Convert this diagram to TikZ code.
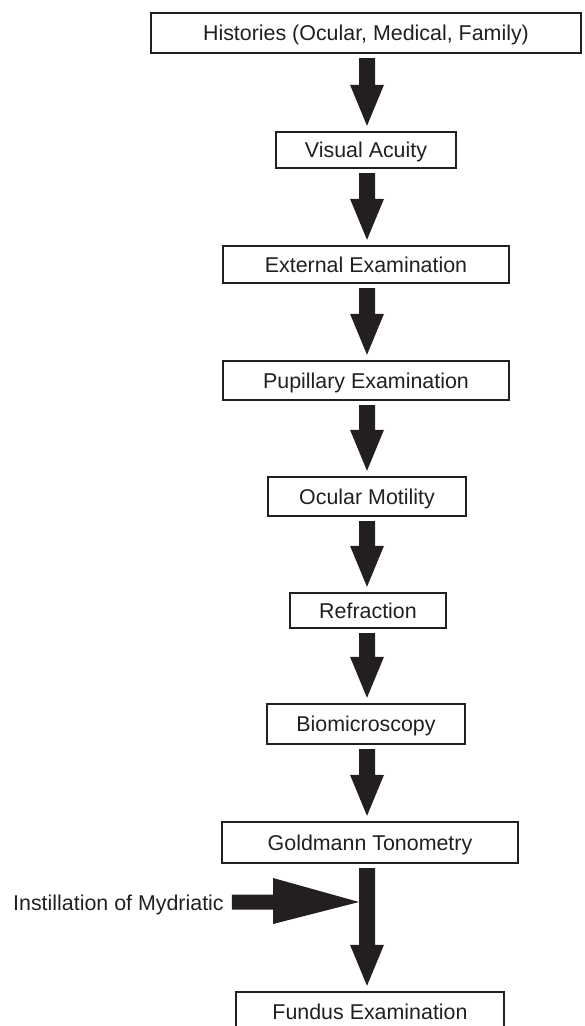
\documentclass[tikz,border=0pt]{standalone}
\usepackage{fontspec}
\setmainfont{Liberation Sans}
\usetikzlibrary{calc}
\definecolor{ink}{HTML}{231F20}
\tikzset{
  stepbox/.style={draw=ink, line width=1.4pt, text=ink, fill=white, inner sep=0pt,
    font=\fontsize{21.4}{25}\selectfont, text height=15pt, text depth=0pt},
  plainlabel/.style={text=ink, inner sep=0pt, font=\fontsize{21.4}{25}\selectfont,
    text height=15pt, text depth=0pt},
  arrowfill/.style={fill=ink}
}
\newcommand\downarrowblock[2]{%
  \fill[arrowfill] let \p1=(#1.south), \p2=(#2.north) in
    (367pt,\y1-4.5pt) -- (375pt,\y1-4.5pt) -- (375pt,\y2+46.5pt) -- (384pt,\y2+46.5pt)
    -- (367pt,\y2+5.5pt) -- (350pt,\y2+46.5pt) -- (359pt,\y2+46.5pt) -- (359pt,\y1-4.5pt) -- cycle;}
\begin{document}
\begin{tikzpicture}[x=1pt,y=-1pt]
\useasboundingbox (0,0) rectangle (584,1026);
\clip (0,0) rectangle (584,1026);
\node[stepbox, minimum width=430pt, minimum height=40pt] (hist) at (366,33) {Histories (Ocular, Medical, Family)};
\node[stepbox, minimum width=180pt, minimum height=36pt] (va) at (366,150) {Visual Acuity};
\node[stepbox, minimum width=286pt, minimum height=37pt] (ext) at (366,264.5) {External Examination};
\node[stepbox, minimum width=286pt, minimum height=39pt] (pup) at (366,380.5) {Pupillary Examination};
\node[stepbox, minimum width=198pt, minimum height=39pt] (mot) at (367,496.5) {Ocular Motility};
\node[stepbox, minimum width=156pt, minimum height=35pt] (ref) at (368,610.5) {Refraction};
\node[stepbox, minimum width=198pt, minimum height=40pt] (bio) at (366,724) {Biomicroscopy};
\node[stepbox, minimum width=296pt, minimum height=41pt] (gold) at (370,842.5) {Goldmann Tonometry};
\node[stepbox, minimum width=268pt, minimum height=40pt] (fund) at (370,1012) {Fundus Examination};
\node[plainlabel, anchor=west] (myd) at (13,903) {Instillation of Mydriatic};
\coordinate (join) at (359,902);

\downarrowblock{hist}{va}
\downarrowblock{va}{ext}
\downarrowblock{ext}{pup}
\downarrowblock{pup}{mot}
\downarrowblock{mot}{ref}
\downarrowblock{ref}{bio}
\downarrowblock{bio}{gold}
\downarrowblock{gold}{fund}

\fill[arrowfill] let \p1=(myd.east), \p2=(join) in
  (\x1+8pt,\y2+7.5pt) -- (\x2-86pt,\y2+7.5pt) -- (\x2-86pt,\y2+24pt) -- (\x2,\y2)
  -- (\x2-86pt,\y2-22pt) -- (\x2-86pt,\y2-7.5pt) -- (\x1+8pt,\y2-7.5pt) -- cycle;
\end{tikzpicture}
\end{document}
